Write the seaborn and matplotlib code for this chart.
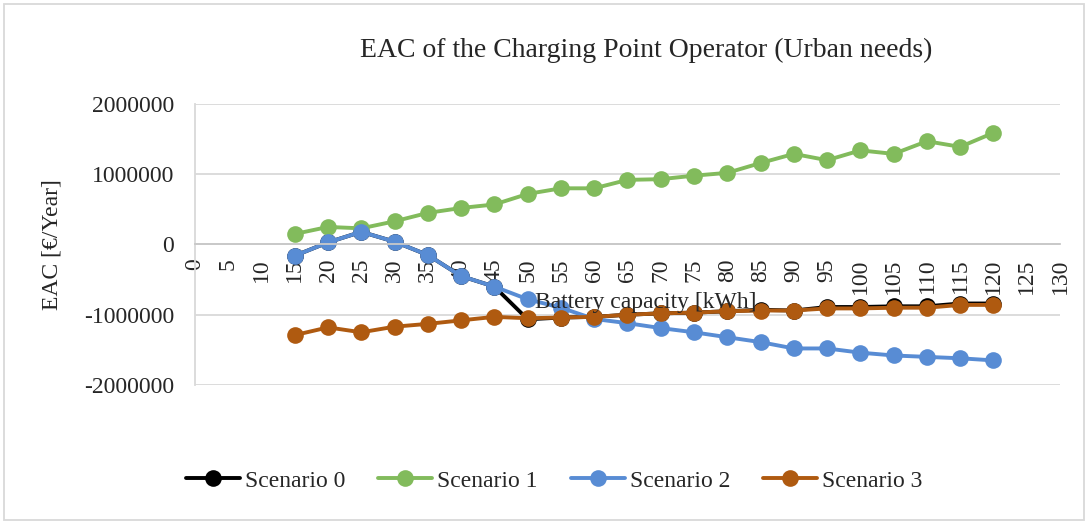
import numpy as np
import pandas as pd
import seaborn as sns
import matplotlib.pyplot as plt
from matplotlib.patches import Rectangle

# EAC of the charging point operator, urban needs, per battery capacity

capacity = [15, 20, 25, 30, 35, 40, 45, 50, 55, 60, 65, 70, 75, 80, 85, 90, 95, 100, 105, 110, 115, 120]

scenario_0 = [-160000, 30000, 180000, 40000, -150000, -450000, -600000, -1065000, -1040000, -1030000,
              -1000000, -980000, -970000, -950000, -930000, -940000, -890000, -890000, -880000, -880000,
              -840000, -840000]
scenario_1 = [150000, 250000, 230000, 330000, 450000, 520000, 570000, 720000, 800000, 800000,
              920000, 930000, 980000, 1020000, 1160000, 1290000, 1200000, 1340000, 1290000, 1470000,
              1390000, 1590000]
scenario_2 = [-160000, 30000, 180000, 40000, -150000, -450000, -600000, -780000, -900000, -1060000,
              -1120000, -1190000, -1250000, -1320000, -1390000, -1480000, -1480000, -1540000, -1580000,
              -1600000, -1620000, -1650000]
scenario_3 = [-1290000, -1180000, -1250000, -1170000, -1130000, -1080000, -1030000, -1050000, -1040000,
              -1030000, -1000000, -980000, -970000, -950000, -940000, -940000, -910000, -910000, -900000,
              -900000, -860000, -860000]

names = ['Scenario 0', 'Scenario 1', 'Scenario 2', 'Scenario 3']
colors = ['#000000', '#82BB5C', '#588CD4', '#AF5A10']

frames = []
for name, vals in zip(names, [scenario_0, scenario_1, scenario_2, scenario_3]):
    frames.append(pd.DataFrame({'capacity': capacity, 'eac': vals, 'scenario': name}))
df = pd.concat(frames, ignore_index=True)

sns.set_style('white')
plt.rcParams['font.family'] = ['Liberation Serif', 'DejaVu Serif']

fig = plt.figure(figsize=(10.89, 5.24), dpi=100)
ax = fig.add_axes([0.179, 0.2653, 0.7944, 0.5362])

sns.lineplot(data=df, x='capacity', y='eac', hue='scenario', palette=colors,
             marker='o', markersize=12, markeredgewidth=0, linewidth=2.8,
             dashes=False, ax=ax)

ax.set_xlim(0, 130)
ax.set_ylim(-2000000, 2000000)
ax.set_xticks(np.arange(0, 131, 5))
ax.set_yticks([-2000000, -1000000, 0, 1000000, 2000000])
ax.set_yticklabels(['-2000000', '-1000000', '0', '1000000', '2000000'])
ax.grid(axis='y', color='#D9D9D9', linewidth=1.3)
ax.set_axisbelow(True)

for s in ['top', 'right']:
    ax.spines[s].set_visible(False)
ax.spines['left'].set_color('#D9D9D9')
ax.spines['left'].set_linewidth(1.3)
ax.spines['bottom'].set_position(('data', 0))
ax.spines['bottom'].set_color('#C8C8C8')
ax.spines['bottom'].set_linewidth(1.3)

ax.tick_params(axis='x', length=0, pad=10, labelsize=17, labelrotation=90)
ax.tick_params(axis='y', length=0, pad=15, labelsize=17)

# x title sits inside the plot area, over the lines
ax.set_xlabel('')
ax.text(0.521, 0.292, 'Battery capacity [kWh]', transform=ax.transAxes,
        ha='center', va='center', fontsize=17, zorder=10)
ax.set_ylabel('EAC [€/Year]', fontsize=17)
ax.yaxis.set_label_coords(-0.1526, 0.498)

handles = ax.lines[:4]
ax.get_legend().remove()
fig.legend(handles, names, loc='center', bbox_to_anchor=(554 / 1089, 1 - 481 / 524),
           ncol=4, frameon=False, fontsize=17, handlelength=2.3, handletextpad=0.2,
           columnspacing=1.4)

fig.text(646 / 1089, 1 - 50 / 524, 'EAC of the Charging Point Operator (Urban needs)',
         ha='center', va='center', fontsize=20)

fig.patches.append(Rectangle((4 / 1089, 4 / 524), 1080 / 1089, 516 / 524, transform=fig.transFigure,
                             fill=False, edgecolor='#D9D9D9', linewidth=1.3))

plt.savefig('out.png', dpi=100)
plt.close()
